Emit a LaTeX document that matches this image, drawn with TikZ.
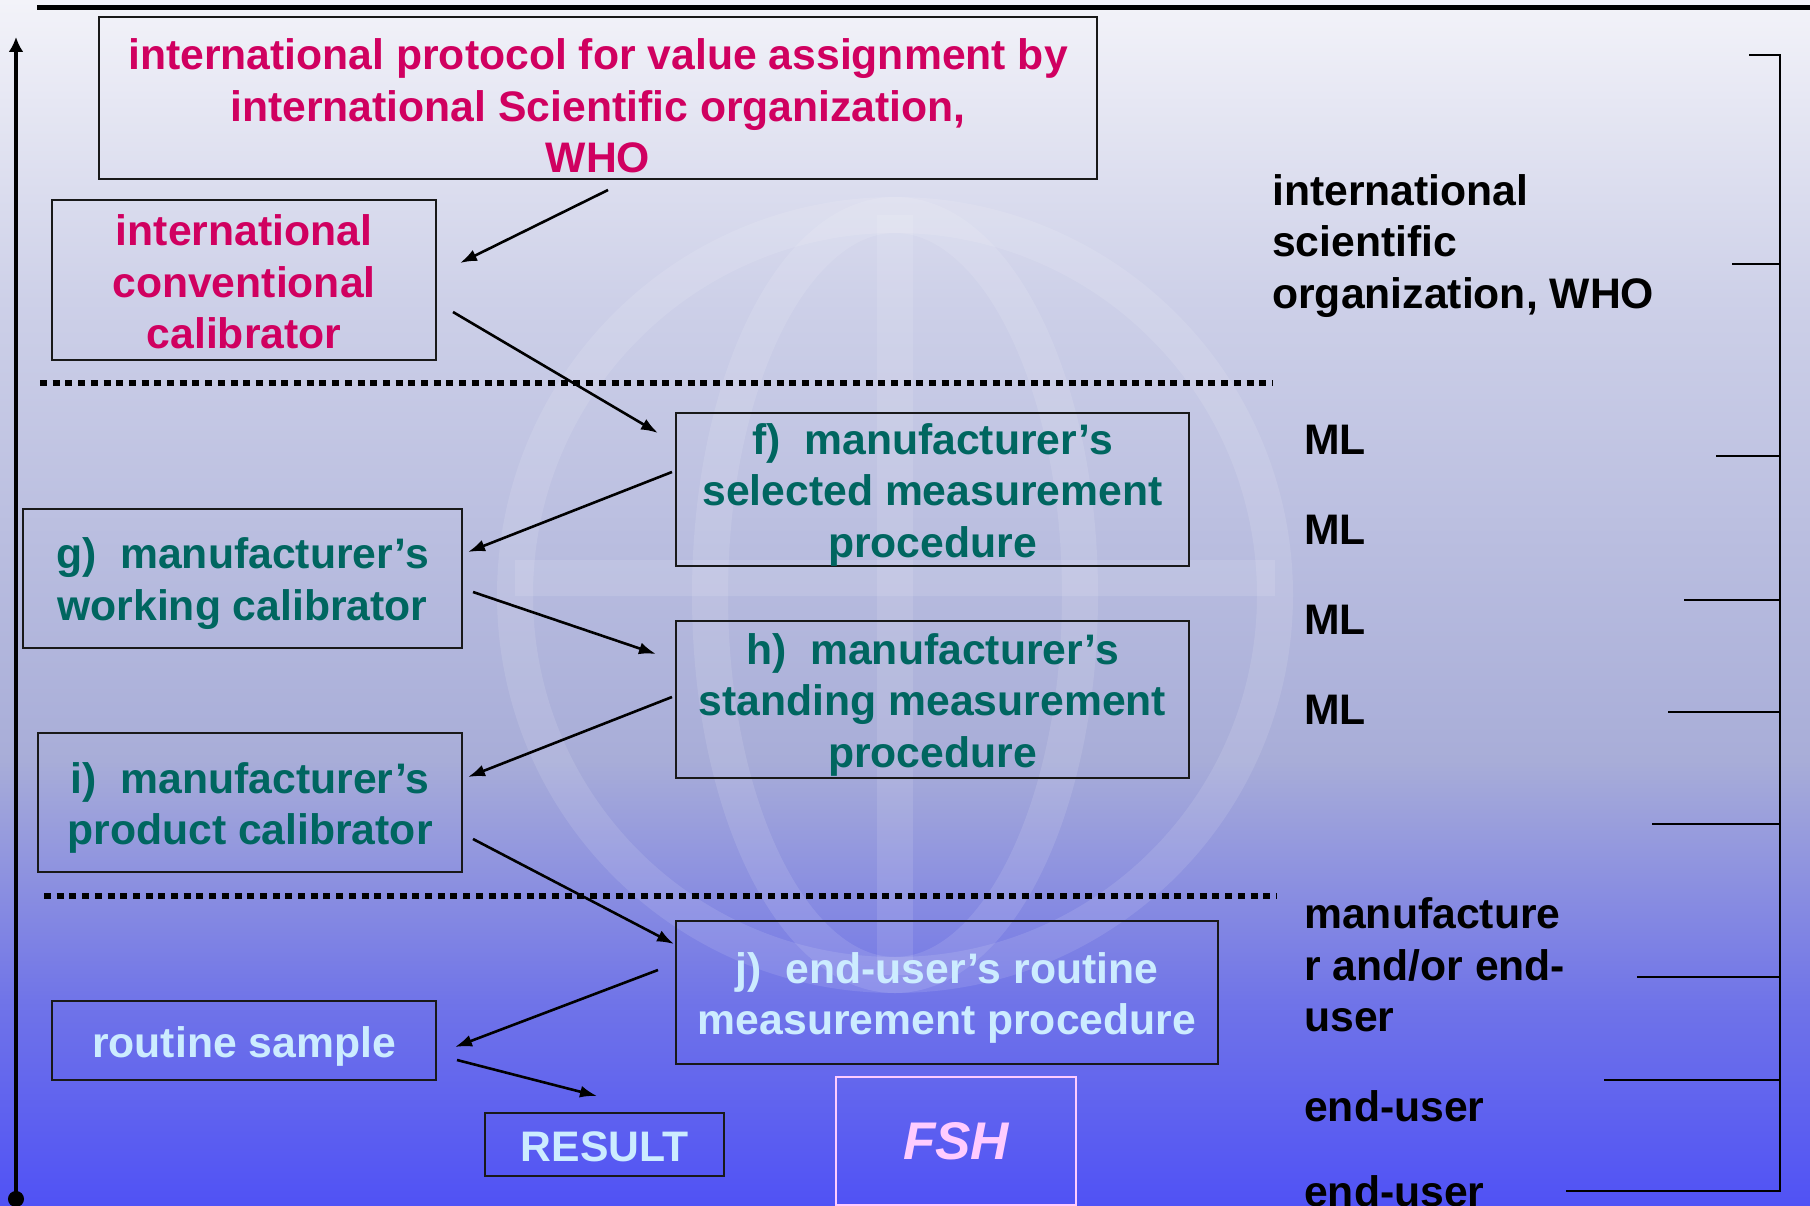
\documentclass[tikz,border=0pt]{standalone}
\usepackage{fontspec}
\setmainfont{Liberation Sans}
\usetikzlibrary{calc,arrows.meta,positioning}

\definecolor{protored}{RGB}{208,0,96}
\definecolor{mlteal}{RGB}{0,102,96}
\definecolor{userblue}{RGB}{204,236,255}
\definecolor{fshpink}{RGB}{255,204,255}
\definecolor{bga}{RGB}{243,243,249}
\definecolor{bgb}{RGB}{205,208,232}
\definecolor{bgc}{RGB}{168,173,216}
\definecolor{bgd}{RGB}{112,116,232}
\definecolor{bge}{RGB}{80,82,245}

\newcommand{\boxfont}{\bfseries\fontsize{42.7pt}{51.5pt}\selectfont}

\begin{document}
\begin{tikzpicture}[x=1pt,y=-1pt,>={Latex[length=17pt,width=12pt]},
  box/.style={draw=black!90,line width=2pt,inner sep=0pt,align=center,font=\boxfont,text height=42pt},
  twolines/.style={text height=93pt},
  threelines/.style={text height=144.6pt},
  side/.style={inner sep=0pt,align=left,anchor=west,font=\boxfont},
  flow/.style={->,line width=2.6pt},
  level/.style={line width=5.5pt,dash pattern=on 7pt off 5.7pt}]

  \useasboundingbox (0,0) rectangle (1810,1206);
  \clip (0,0) rectangle (1810,1206);

  % background
  \shade[top color=bga,bottom color=bgb] (0,0) rectangle (1810,301);
  \shade[top color=bgb,bottom color=bgc] (0,300) rectangle (1810,761);
  \shade[top color=bgc,bottom color=bgd] (0,760) rectangle (1810,1001);
  \shade[top color=bgd,bottom color=bge] (0,1000) rectangle (1810,1206);

  % faint globe behind the boxes
  \begin{scope}[draw=white,opacity=.11,line width=36pt]
    \draw (895,595) circle[radius=380pt];
    \draw (895,595) ellipse[x radius=185pt,y radius=380pt];
    \draw (895,215) -- (895,975);
    \draw (515,578) -- (1275,578);
  \end{scope}

  \draw[line width=5pt] (37,8) -- (1810,8);

  \node[box,text=protored,minimum width=998pt,minimum height=162pt,text height=149.6pt] (protocol) at (598,98)
    {international protocol for value assignment by\\international Scientific organization,\\WHO};
  \node[box,text=protored,minimum width=384pt,minimum height=160pt,text height=137.6pt] (convcal) at (244,280)
    {international\\conventional\\calibrator};
  \node[box,threelines,text=mlteal,minimum width=513pt,minimum height=153pt] (selmp) at (932.5,489.5)
    {f)\ \ manufacturer’s\\selected measurement\\procedure};
  \node[box,twolines,text=mlteal,minimum width=439pt,minimum height=139pt] (workcal) at (242.5,578.5)
    {g)\ \ manufacturer’s\\working calibrator};
  \node[box,threelines,text=mlteal,minimum width=513pt,minimum height=157pt] (standmp) at (932.5,699.5)
    {h)\ \ manufacturer’s\\standing measurement\\procedure};
  \node[box,twolines,text=mlteal,minimum width=424pt,minimum height=139pt] (prodcal) at (250,802.5)
    {i)\ \ manufacturer’s\\product calibrator};
  \node[box,twolines,text=userblue,minimum width=542pt,minimum height=143pt] (routmp) at (947,992.5)
    {j)\ \ end-user’s routine\\measurement procedure};
  \node[box,text=userblue,minimum width=384pt,minimum height=79pt] (sample) at (244,1040.5)
    {routine sample};
  \node[box,text=userblue,minimum width=239pt,minimum height=63pt,text height=34.6pt] (result) at (604.5,1144.5)
    {RESULT};
  \node[box,draw=fshpink,text=fshpink,minimum width=240pt,minimum height=128pt,text height=38pt,
    font=\bfseries\itshape\fontsize{53pt}{60pt}\selectfont] (fsh) at (956,1141) {FSH};

  % levels
  \draw[level] (40,383) -- (1273,383);
  \draw[level] (44,896) -- (1277,896);

  \node[side] (org) at (1272,246) {international\\scientific\\organization, WHO};
  \node[side] (ml1) at (1304,440) {ML};
  \node[side,below=60pt of ml1] (ml2) {ML};
  \node[side,below=60pt of ml2] (ml3) {ML};
  \node[side,below=60pt of ml3] (ml4) {ML};
  \node[side] (mfr) at (1304,965) {manufacture\\r and/or end-\\user};
  \node[side] (enduser) at (1304,1106) {end-user};
  \node[side] (enduserb) at (1304,1191) {end-user};

  % the chain
  \draw[flow] ($(protocol.south)+(10,10)$) -- ($(convcal.east)+(23,-17)$);
  \draw[flow] ($(convcal.east)+(16,32)$) -- ($(selmp.west)+(-17,-56.5)$);
  \draw[flow] ($(selmp.west)+(-3,-17.5)$) -- ($(workcal.east)+(5,-26.5)$);
  \draw[flow] ($(workcal.east)+(10,13.5)$) -- ($(standmp.west)+(-19,-45.5)$);
  \draw[flow] ($(standmp.west)+(-3,-2.5)$) -- ($(prodcal.east)+(5,-25.5)$);
  \draw[flow] ($(prodcal.east)+(10,36.5)$) -- ($(routmp.west)+(-1,-48.5)$);
  \draw[flow] ($(routmp.west)+(-17,-22.5)$) -- ($(sample.east)+(18,6.5)$);
  \draw[flow] ($(sample.east)+(20,19.5)$) -- ($(result.north)+(-7.5,-16)$);

  % axis on the left
  \draw[line width=4pt,{Circle[length=16pt]}-{Latex[length=15pt,width=15pt]}] (16,1207) -- (16,37);

  % bracket on the right
  \draw[line width=2.5pt] (1749,55) -- (1780,55) -- (1780,1191) -- (1566,1191);
  \foreach \y/\x in {264/1732,456/1716,600/1684,712/1668,824/1652,977/1637,1080/1604}
    \draw[line width=2.5pt] (\x,\y) -- (1780,\y);

\end{tikzpicture}
\end{document}
